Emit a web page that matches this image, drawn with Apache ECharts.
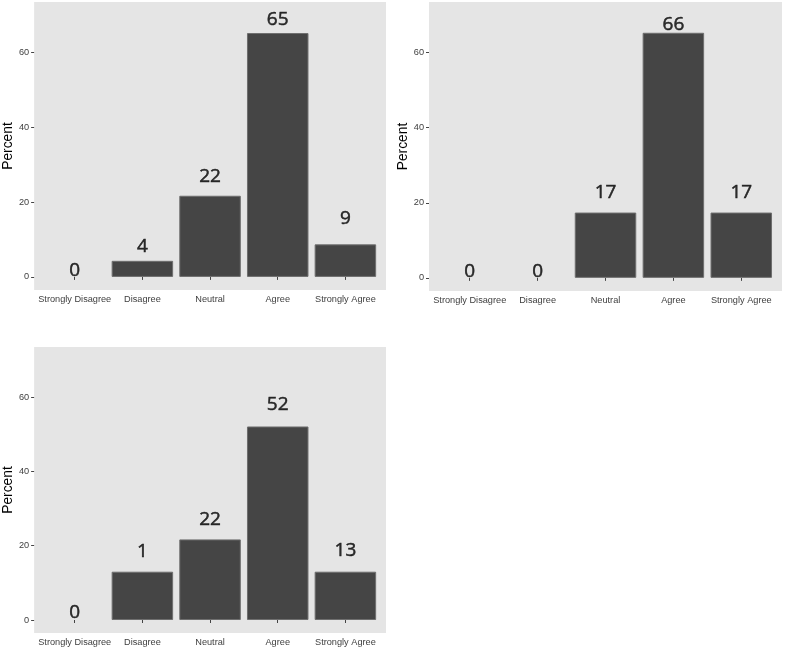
<!DOCTYPE html>
<html>
<head>
<meta charset="utf-8">
<script src="https://cdn.jsdelivr.net/npm/echarts@6/dist/echarts.min.js"></script>
<style>html,body{margin:0;padding:0;background:#fff}#c{width:787px;height:648px}</style>
</head>
<body>
<div id="c"></div>
<script>
var categories = ['Strongly Disagree', 'Disagree', 'Neutral', 'Agree', 'Strongly Agree'];
var yTicks = [0, 20, 40, 60];

// bar heights (percent) per panel
var panel1Values = [0, 4.3, 21.7, 65.2, 8.7];
var panel2Values = [0, 0, 17.4, 65.3, 17.4];
var panel3Values = [0, 13, 21.7, 52.1, 13];

// annotation texts per panel
var panel1Labels = ['0', '4', '22', '65', '9'];
var panel2Labels = ['0', '0', '17', '66', '17'];
var panel3Labels = ['0', '1', '22', '52', '13'];

// annotation heights (percent scale) per panel
var panel1LabelY = [1.7, 8.1, 26.7, 68.9, 15.6];
var panel2LabelY = [1.75, 1.75, 22.8, 67.4, 22.8];
var panel3LabelY = [2.1, 18.3, 27.1, 57.9, 18.7];

var panels = [
  {values: panel1Values, labels: panel1Labels, labelY: panel1LabelY, grid: {left: 31, top: 2, width: 355, height: 288}},
  {values: panel2Values, labels: panel2Labels, labelY: panel2LabelY, grid: {left: 429, top: 2, width: 353, height: 289}},
  {values: panel3Values, labels: panel3Labels, labelY: panel3LabelY, grid: {left: 31, top: 347, width: 355, height: 286}}
];

var catPos = categories.map(function (c, i) { return i + 1; });

var option = {animation: false, grid: [], xAxis: [], yAxis: [], series: []};
panels.forEach(function (p, k) {
  option.grid.push(Object.assign({show: true, backgroundColor: '#e5e5e5', borderWidth: 0, containLabel: false}, p.grid));
  option.xAxis.push({
    gridIndex: k, type: 'value', min: 0.4, max: 5.6,
    axisLine: {show: false}, splitLine: {show: false},
    axisTick: {show: true, length: 3, lineStyle: {color: '#444'}, customValues: catPos},
    axisLabel: {customValues: catPos, margin: 5, color: '#404040', fontFamily: 'Liberation Sans, Arial', fontSize: 9.2,
      formatter: function (v) { return categories[Math.round(v) - 1] || ''; }}
  });
  option.yAxis.push({
    gridIndex: k, type: 'value', min: -3.5, max: 73.5,
    name: 'Percent', nameLocation: 'middle', nameGap: 17, nameRotate: 90,
    nameTextStyle: {fontFamily: 'Liberation Sans, Arial', fontSize: 13.8, color: '#000'},
    axisLine: {show: false}, splitLine: {show: false},
    axisTick: {show: true, length: 3, lineStyle: {color: '#444'}, customValues: yTicks},
    axisLabel: {customValues: yTicks, margin: 5, color: '#404040', fontFamily: 'Liberation Sans, Arial', fontSize: 9.2}
  });
  option.series.push({
    type: 'bar', xAxisIndex: k, yAxisIndex: k, barWidth: 61.5,
    itemStyle: {color: '#454545', borderColor: '#6e6e6e', borderWidth: 1},
    data: p.values.map(function (v, i) { return v > 0 ? [catPos[i], v] : [catPos[i], '-']; })
  });
  option.series.push({
    type: 'scatter', xAxisIndex: k, yAxisIndex: k, symbolSize: 1,
    itemStyle: {color: 'transparent'},
    label: {show: true, position: 'inside', color: '#000', fontFamily: 'Open Sans', fontSize: 19,
      textBorderColor: '#000', textBorderWidth: 0.5,
      formatter: function (d) { return p.labels[d.dataIndex]; }},
    data: p.labelY.map(function (v, i) { return [catPos[i], v]; })
  });
});

var chart = echarts.init(document.getElementById('c'), null, {renderer: 'canvas'});
chart.setOption(option);
</script>
</body>
</html>
